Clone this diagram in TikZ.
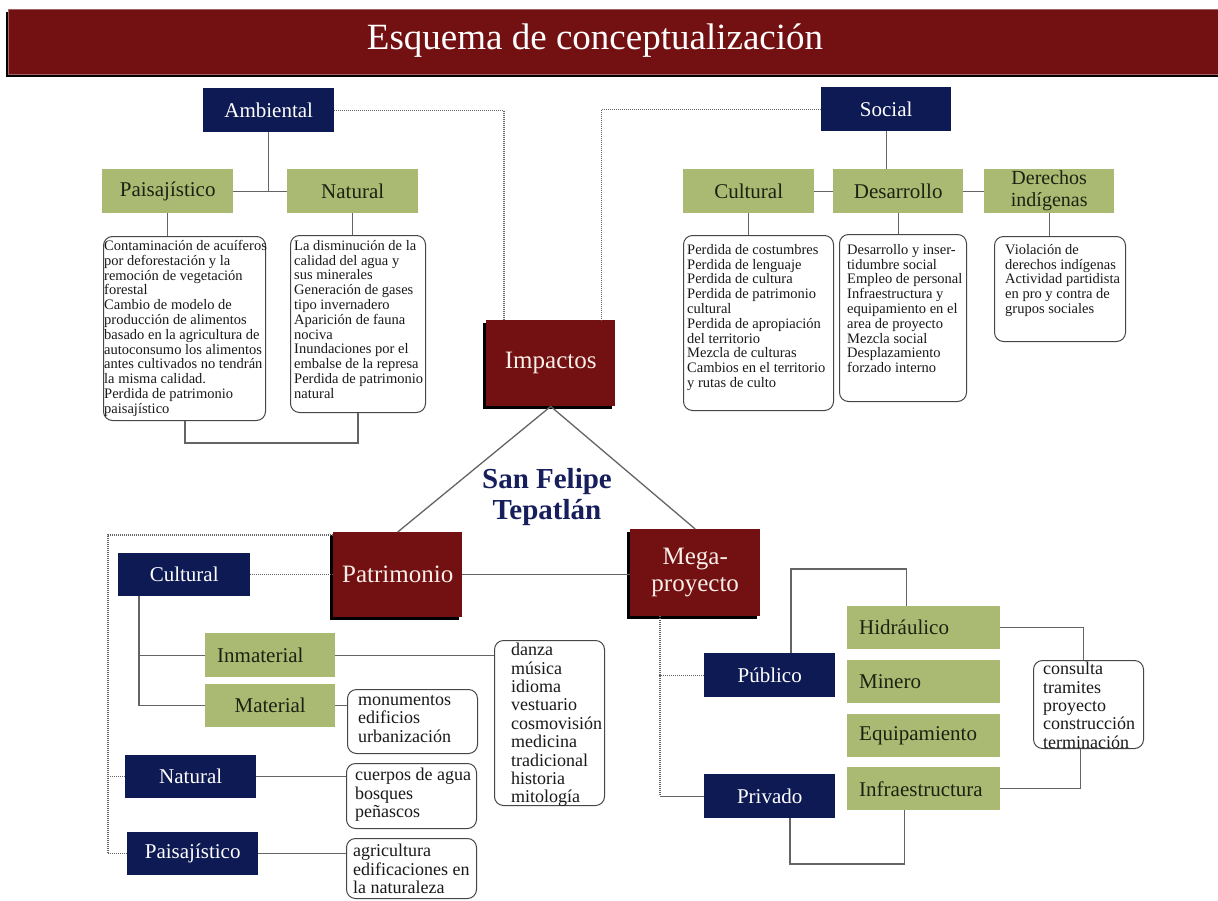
\documentclass[tikz,border=0pt]{standalone}
\usepackage{fontspec}
\setmainfont{Liberation Serif}
\usetikzlibrary{shadows}
\definecolor{navy}{RGB}{14,26,84}
\definecolor{maroon}{RGB}{114,16,18}
\definecolor{olive}{RGB}{170,186,114}
\definecolor{oltext}{RGB}{28,34,18}
\definecolor{lin}{RGB}{100,100,100}
\definecolor{bord}{RGB}{70,70,70}
\definecolor{sfnavy}{RGB}{22,30,92}
\definecolor{txt}{RGB}{25,25,25}
\definecolor{cream}{RGB}{250,238,232}
\tikzset{
 sz/.style 2 args={minimum width=#1pt, minimum height=#2pt},
 navybox/.style={fill=navy, text=white, inner sep=0pt, anchor=north west, font=\fontsize{21}{22}\selectfont, align=center},
 greenbox/.style={fill=olive, text=oltext, inner sep=0pt, anchor=north west, font=\fontsize{21}{22}\selectfont, align=center},
 greenL/.style={greenbox, align=left, text width=129pt, inner xsep=12pt},
 redbox/.style={fill=maroon, text=cream, inner sep=0pt, anchor=north west, font=\fontsize{25}{27}\selectfont, align=center, drop shadow={shadow xshift=-3pt, shadow yshift=-3pt, fill=black, opacity=1}},
 tbox/.style={draw=bord, line width=1pt, rounded corners=9pt, fill=white, anchor=north west, inner sep=0pt},
 ttop/.style={anchor=north west, inner sep=0pt, align=left, text=txt, font=\fontsize{14.5}{14.8}\selectfont},
 tbot/.style={anchor=north west, inner sep=0pt, align=left, text=txt, font=\fontsize{18}{18.4}\selectfont},
 conn/.style={draw=lin, line width=1.3pt},
 dconn/.style={draw=lin, line width=1.4pt, dash pattern=on 1pt off 1pt},
}
\begin{document}
\begin{tikzpicture}[x=1pt,y=-1pt]
\useasboundingbox (0,0) rectangle (1218,900);
\fill[white] (0,0) rectangle (1218,900);

% title
\node[fill=maroon, draw={rgb,255:red,160;green,100;blue,100}, line width=0.6pt, anchor=north west, minimum width=1214pt, minimum height=65pt, inner sep=0pt, drop shadow={shadow xshift=-2.5pt, shadow yshift=-2.5pt, fill=black, opacity=1}] (bar) at (8,9) {};
\node[text=white, font=\fontsize{37}{40}\selectfont] (title) at (595,41) {Esquema de conceptualización};

% top left
\node[navybox, sz={131}{44}] (amb) at (203,88) {Ambiental};
\node[greenbox, sz={131}{44}] (pai) at (102,169) {Paisajístico};
\node[greenbox, sz={131}{44}] (nat) at (287,169) {Natural};
\node[tbox, sz={162}{184}] (pT) at (103,236) {};
\node[tbox, sz={135}{177}] (nT) at (290,235) {};
\node[ttop] (pTt) at (104,240) {Contaminación de acuíferos\\por deforestación y la\\remoción de vegetación\\forestal\\Cambio de modelo de\\producción de alimentos\\basado en la agricultura de\\autoconsumo los alimentos\\antes cultivados no tendrán\\la misma calidad.\\Perdida de patrimonio\\paisajístico};
\node[ttop] (nTt) at (294,240) {La disminución de la\\calidad del agua y\\sus minerales\\Generación de gases\\tipo invernadero\\Aparición de fauna\\nociva\\Inundaciones por el\\embalse de la represa\\Perdida de patrimonio\\natural};

% top right
\node[navybox, sz={130}{44}] (soc) at (821,87) {Social};
\node[greenbox, sz={131}{44}] (cul) at (683,169) {Cultural};
\node[greenbox, sz={130}{44}] (des) at (833,169) {Desarrollo};
\node[greenbox, sz={130}{44}, font=\fontsize{20}{22}\selectfont] (der) at (984,169) {Derechos\\indígenas};
\node[tbox, sz={150}{175}] (cT) at (683,235) {};
\node[tbox, sz={127}{167}] (dT) at (839,234) {};
\node[tbox, sz={131}{105}] (rT) at (994,236) {};
\node[ttop] (cTt) at (687,244) {Perdida de costumbres\\Perdida de lenguaje\\Perdida de cultura\\Perdida de patrimonio\\cultural\\Perdida de apropiación\\del territorio\\Mezcla de culturas\\Cambios en el territorio\\y rutas de culto};
\node[ttop] (dTt) at (847,244) {Desarrollo y inser-\\tidumbre social\\Empleo de personal\\Infraestructura y\\equipamiento en el\\area de proyecto\\Mezcla social\\Desplazamiento\\forzado interno};
\node[ttop] (rTt) at (1005,244) {Violación de\\derechos indígenas\\Actividad partidista\\en pro y contra de\\grupos sociales};

% center
\node[redbox, sz={129}{86}] (imp) at (486,320) {Impactos};
\node[font=\bfseries\fontsize{29}{31}\selectfont, text=sfnavy, align=center] (sf) at (547,497) {San Felipe\\Tepatlán};
\node[redbox, sz={129}{85}] (pat) at (333,532) {Patrimonio};
\node[redbox, sz={130}{87}] (meg) at (630,529) {Mega-\\proyecto};

% bottom left
\node[navybox, sz={132}{43}] (cul2) at (118,553) {Cultural};
\node[greenbox, sz={130}{44}, align=left, text width=106pt, inner xsep=12pt] (inm) at (205,633) {Inmaterial};
\node[greenbox, sz={130}{43}] (mat) at (205,684) {Material};
\node[navybox, sz={131}{43}] (nat2) at (125,755) {Natural};
\node[navybox, sz={131}{43}] (pai2) at (127,832) {Paisajístico};
\node[tbox, sz={130}{64}] (mon) at (347,689) {};
\node[tbox, sz={130}{65}] (cue) at (346,763) {};
\node[tbox, sz={130}{60}] (agr) at (346,838) {};
\node[tbox, sz={110}{165}] (dz) at (494,640) {};
\node[tbot] (monT) at (358,695) {monumentos\\edificios\\urbanización};
\node[tbot] (cueT) at (355,768) {cuerpos de agua\\bosques\\peñascos};
\node[tbot] (agrT) at (353,844) {agricultura\\edificaciones en\\la naturaleza};
\node[tbot] (dzT) at (511,643) {danza\\música\\idioma\\vestuario\\cosmovisión\\medicina\\tradicional\\historia\\mitología};

% bottom right
\node[navybox, sz={131}{44}] (pub) at (704,653) {Público};
\node[navybox, sz={131}{44}] (priv) at (704,774) {Privado};
\node[greenL, sz={153}{43}] (hid) at (847,606) {Hidráulico};
\node[greenL, sz={153}{43}] (mine) at (847,660) {Minero};
\node[greenL, sz={153}{43}] (equ) at (847,714) {Equipamiento};
\node[greenL, sz={153}{43}] (inf) at (847,767) {Infraestructura};
\node[tbox, sz={110}{88}] (con) at (1033,660) {};
\node[tbot] (conT) at (1043,662) {consulta\\tramites\\proyecto\\construcción\\terminación};

% connectors top left
\draw[conn] (amb.south) -- (amb.south |- pai.east);
\draw[conn] (pai.east) -- (nat.west);
\draw[conn] (pai.south) -- (pai.south |- pT.north);
\draw[conn] (nat.south) -- (nat.south |- nT.north);
\coordinate (j1) at (185,443);
\draw[conn] (pT.south -| j1) -- (j1) -- (j1 -| nT.south) -- (nT.south);
\draw[dconn] (amb.east) -| ([xshift=18pt]imp.north west);
% connectors top right
\draw[conn] (soc.south) -- (soc.south |- des.north);
\draw[conn] (cul.east) -- (des.west);
\draw[conn] (des.east) -- (der.west);
\draw[conn] (cul.south) -- (cul.south |- cT.north);
\draw[conn] (des.south) -- (des.south |- dT.north);
\draw[conn] (der.south) -- (der.south |- rT.north);
\draw[dconn] (soc.west) -| ([xshift=-14pt]imp.north east);
% center
\draw[conn] (imp.south) -- (pat.north);
\draw[conn] (imp.south) -- (meg.north);
\draw[conn] (pat.east) -- (pat.east -| meg.west);
% bottom left
\coordinate (dl) at (108,535);
\draw[dconn] ([yshift=-3pt]pat.north west) -- (dl) |- (pai2.west);
\draw[dconn] (dl |- nat2.west) -- (nat2.west);
\draw[dconn] (cul2.east) -- (cul2.east -| pat.west);
\coordinate (cv) at ([xshift=21pt]cul2.south west);
\draw[conn] (cv) |- (mat.west);
\draw[conn] (cv |- inm.west) -- (inm.west);
\draw[conn] (inm.east) -- (inm.east -| dz.west);
\draw[conn] (mat.east) -- (mat.east -| mon.west);
\draw[conn] (nat2.east) -- (nat2.east -| cue.west);
\draw[conn] (pai2.east) -- (pai2.east -| agr.west);
% bottom right
\coordinate (mv) at ([xshift=30pt]meg.south west);
\draw[dconn] (mv) |- (pub.west);
\draw[dconn] (mv) -- (mv |- priv.west);
\draw[conn] (mv |- priv.west) -- (priv.west);
\coordinate (ptop) at (791,569);
\draw[conn] (pub.north -| ptop) -- (ptop) -| ([xshift=-17pt]hid.north);
\coordinate (pbot) at (790,864);
\draw[conn] (priv.south -| pbot) -- (pbot) -| ([xshift=-19pt]inf.south);
\draw[conn] (hid.east) -| ([xshift=-5pt]con.north);
\draw[conn] (inf.east) -| ([xshift=-8pt]con.south);
\end{tikzpicture}
\end{document}
